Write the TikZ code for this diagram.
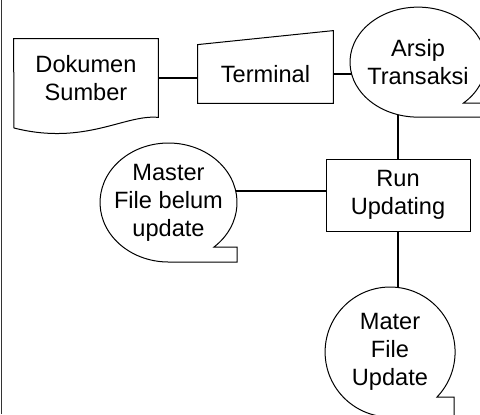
\documentclass[tikz,border=0pt]{standalone}
\usepackage{fontspec}
\setmainfont{Liberation Sans}
\usetikzlibrary{shapes.geometric}
\tikzset{
 flowtext/.style={align=center,font=\fontsize{11.8}{14}\selectfont,inner sep=0pt},
 outline/.style={black,line width=0.5pt},
 link/.style={black,line width=0.9pt},
 tape/.style={ellipse,inner sep=0pt,outer sep=0pt}
}
\begin{document}
\begin{tikzpicture}[x=0.5pt,y=0.5pt]
 \clip (0,0) rectangle (480,414);
 \fill [white] (0,0) rectangle (480,414);
 \draw [black!80,line width=0.8pt] (1.5,0) -- (1.5,414);
 \node [flowtext,minimum width=72pt,minimum height=39pt] (dokumen) at (86,336) {Dokumen\\Sumber};
 \node [flowtext,minimum width=67.5pt,minimum height=29pt] (terminal) at (265.5,340) {Terminal};
 \node [tape,minimum width=68pt,minimum height=55pt,label={[flowtext]center:{Arsip\\Transaksi}}] (arsip) at (418,352) {};
 \node [tape,minimum width=68.5pt,minimum height=59.5pt,label={[flowtext]center:{Master\\File belum\\update}}] (master) at (168.5,211.5) {};
 \node [flowtext,draw,outline,minimum width=72pt,minimum height=36pt] (run) at (398,219) {Run\\Updating};
 \node [tape,minimum width=65pt,minimum height=65pt,label={[flowtext]center:{Mater\\File\\Update}}] (mater) at (390,62) {};
 \draw [outline] (dokumen.south east) .. controls (125,300) and (85,268) .. (14,286) -- (dokumen.north west) -- (dokumen.north east) -- cycle;
 \draw [outline] (terminal.south west) -- (terminal.north west) -- ([yshift=7pt]terminal.north east) -- (terminal.south east) -- cycle;
 \draw [outline] (463.5,311) arc [start angle=-48,end angle=270,x radius=68,y radius=55] -- (485,297) -- (485,311) -- cycle;
 \draw [outline] (214,167) arc [start angle=-48.4,end angle=270,x radius=68.5,y radius=59.5] -- (237,152) -- (237,167) -- cycle;
 \draw [outline] (437,17) arc [start angle=-43.8,end angle=270,x radius=65,y radius=65] -- (454,-3) -- (454,17) -- cycle;
 \draw [link] (dokumen.east) -- (dokumen.east -| terminal.west);
 \draw [link] (terminal.east) -- (terminal.east -| arsip.190);
 \draw [link] (run.north) -- (run.north |- arsip.249);
 \draw [link] (master.10) -- (master.10 -| run.west);
 \draw [link] (run.south) -- (run.south |- mater.83);
\end{tikzpicture}
\end{document}
